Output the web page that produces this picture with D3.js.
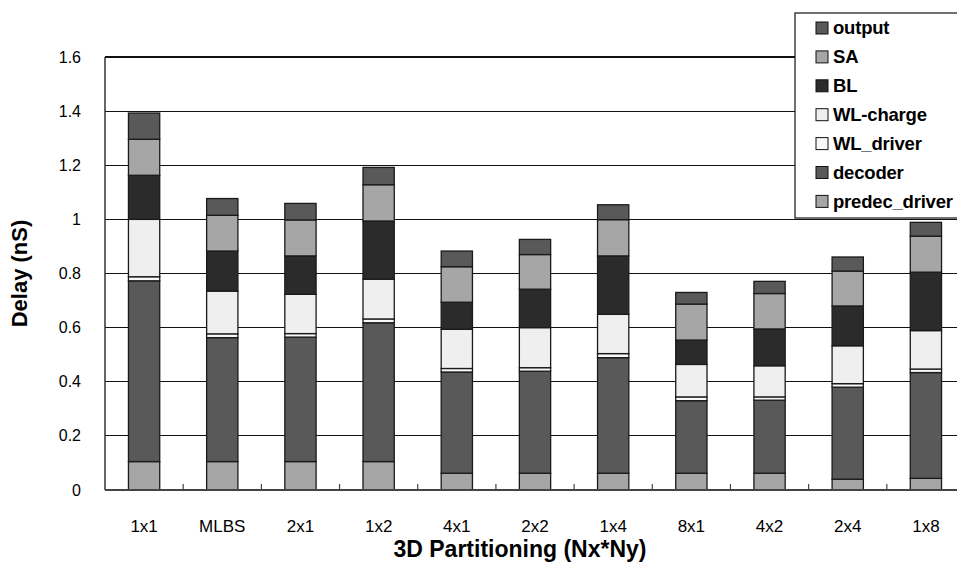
<!DOCTYPE html>
<html><head><meta charset="utf-8">
<script src="https://cdn.jsdelivr.net/npm/d3@7"></script>
<style>body{margin:0;background:#fff}svg{display:block}text{font-family:"Liberation Sans",Arial,Helvetica,sans-serif}</style>
</head><body><svg id="c" width="957" height="565"></svg>
<script>
const categories = ["1x1","MLBS","2x1","1x2","4x1","2x2","1x4","8x1","4x2","2x4","1x8"];
const seriesNames = ["predec_driver","decoder","WL_driver","WL-charge","BL","SA","output"];
const predec_driver = [0.105,0.105,0.105,0.105,0.062,0.062,0.062,0.062,0.062,0.040,0.043];
const decoder       = [0.668,0.458,0.460,0.513,0.374,0.377,0.427,0.268,0.270,0.340,0.391];
const WL_driver     = [0.015,0.014,0.013,0.014,0.013,0.013,0.015,0.014,0.012,0.013,0.013];
const WL_charge     = [0.212,0.158,0.145,0.147,0.145,0.148,0.145,0.120,0.115,0.140,0.142];
const BL            = [0.163,0.148,0.142,0.215,0.100,0.142,0.216,0.090,0.136,0.147,0.216];
const SA            = [0.133,0.132,0.133,0.134,0.131,0.128,0.134,0.133,0.131,0.129,0.133];
const output        = [0.097,0.062,0.061,0.064,0.058,0.056,0.055,0.043,0.045,0.052,0.051];
const yTicks = [0,0.2,0.4,0.6,0.8,1,1.2,1.4,1.6];
const colors = {"predec_driver":"#a6a6a6","decoder":"#595959","WL_driver":"#f8f8f8","WL-charge":"#efefef","BL":"#2b2b2b","SA":"#a6a6a6","output":"#595959"};

const valuesBySeries = {"predec_driver":predec_driver,"decoder":decoder,"WL_driver":WL_driver,"WL-charge":WL_charge,"BL":BL,"SA":SA,"output":output};
const table = categories.map((c,i)=>{const o={cat:c}; seriesNames.forEach(s=>o[s]=valuesBySeries[s][i]); return o;});

const svg = d3.select("#c");
const m = {l:105, t:57, r:965, b:490};
const x = d3.scaleBand().domain(categories).range([m.l,m.r]).paddingInner(0.6).paddingOuter(0.3);
const xb = d3.scaleBand().domain(categories).range([m.l,m.r]);
const y = d3.scaleLinear().domain([0,1.6]).range([m.b,m.t]);

// gridlines
svg.append("g").selectAll("line").data(yTicks.filter(d=>d>0)).join("line")
  .attr("x1",m.l).attr("x2",m.r).attr("y1",d=>y(d)).attr("y2",d=>y(d))
  .attr("stroke","#111").attr("stroke-width",1.2).attr("shape-rendering","crispEdges");

// y axis labels
svg.append("g").selectAll("text").data(yTicks).join("text")
  .attr("x",81).attr("y",d=>y(d)).attr("dy","0.35em").attr("text-anchor","end")
  .attr("font-size",16).attr("fill","#000").text(d=>d);

// bars
const stack = d3.stack().keys(seriesNames)(table);
svg.append("g").selectAll("g").data(stack).join("g")
  .attr("fill",d=>colors[d.key])
  .selectAll("rect").data(d=>d).join("rect")
  .attr("x",d=>x(d.data.cat)).attr("width",x.bandwidth())
  .attr("y",d=>y(d[1])).attr("height",d=>y(d[0])-y(d[1]))
  .attr("stroke","#1a1a1a").attr("stroke-width",1.3);

// axes lines
svg.append("line").attr("x1",m.l).attr("x2",m.l).attr("y1",m.t).attr("y2",m.b).attr("stroke","#333").attr("stroke-width",1.5);
svg.append("line").attr("x1",m.l).attr("x2",m.r).attr("y1",m.b).attr("y2",m.b).attr("stroke","#444").attr("stroke-width",2);

// x ticks between categories
svg.append("g").selectAll("line").data(categories.slice(1)).join("line")
  .attr("x1",d=>xb(d)).attr("x2",d=>xb(d)).attr("y1",m.b).attr("y2",m.b-6)
  .attr("stroke","#444").attr("stroke-width",1.2);

// x labels
svg.append("g").selectAll("text").data(categories).join("text")
  .attr("x",d=>xb(d)+xb.bandwidth()/2).attr("y",531.5)
  .attr("text-anchor","middle").attr("font-size",17).text(d=>d);

// titles
svg.append("text").attr("x",520).attr("y",557).attr("text-anchor","middle")
  .attr("font-size",23).attr("font-weight","bold").text("3D Partitioning (Nx*Ny)");
svg.append("text").attr("transform",`translate(27,${(m.t+m.b)/2}) rotate(-90)`)
  .attr("text-anchor","middle").attr("font-size",22).attr("font-weight","bold").text("Delay (nS)");

// legend
const lg = svg.append("g");
lg.append("rect").attr("x",795).attr("y",13).attr("width",170).attr("height",205)
  .attr("fill","#fff").attr("stroke","#111").attr("stroke-width",1.2);
const legItems = seriesNames.slice().reverse();
const li = lg.selectAll("g.li").data(legItems).join("g").attr("class","li")
  .attr("transform",(d,i)=>`translate(0,${28+i*28.9})`);
li.append("rect").attr("x",816).attr("y",-6).attr("width",12).attr("height",12)
  .attr("fill",d=>colors[d]).attr("stroke","#111").attr("stroke-width",1);
li.append("text").attr("x",833).attr("y",0).attr("dy","0.35em").attr("font-size",18.5)
  .attr("font-weight","bold").attr("letter-spacing","-0.2").text(d=>d);
</script></body></html>
